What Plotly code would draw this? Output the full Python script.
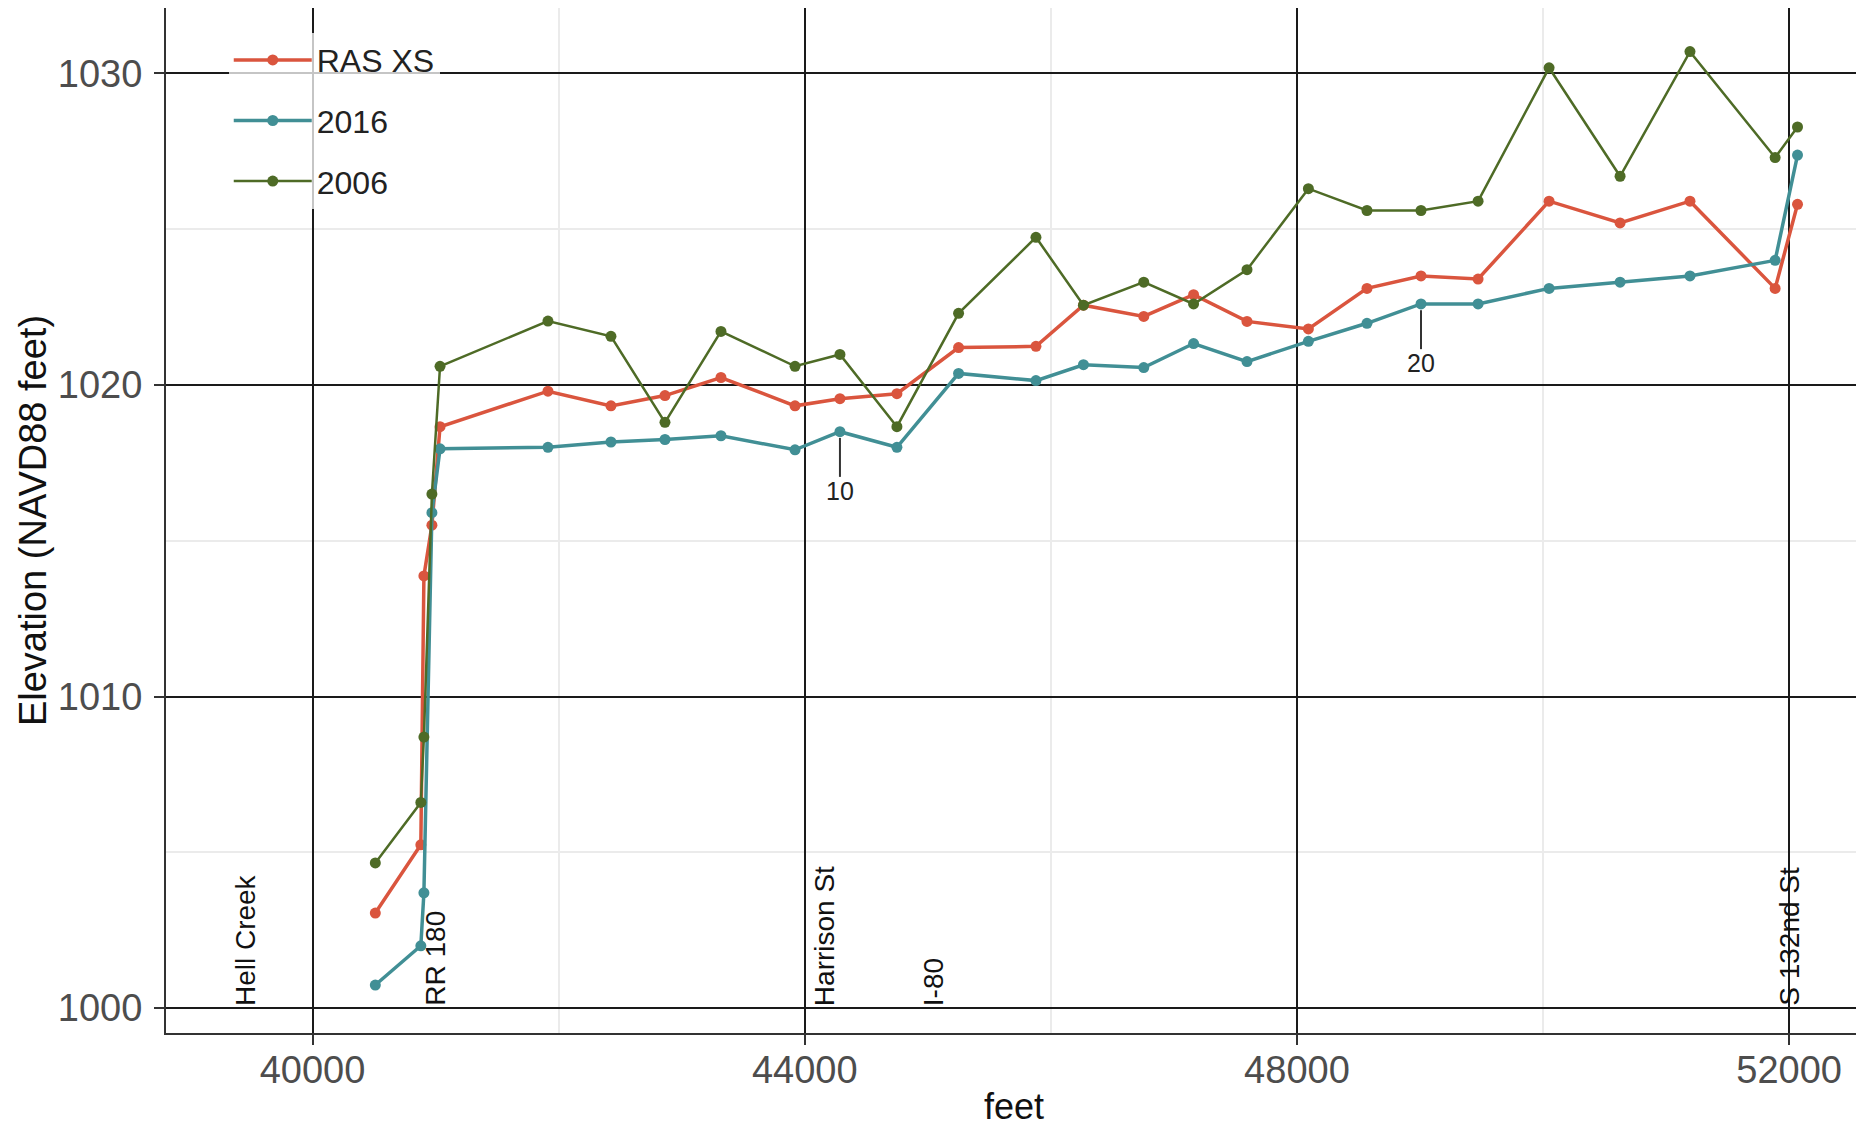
import plotly.graph_objects as go

# Station positions (feet) shared by all series
stations = [40510, 40880, 40905, 40970, 41036, 41913, 42425, 42864, 43319, 43921,
            44286, 44749, 45250, 45879, 46265, 46755, 47160, 47594, 48093, 48569,
            49008, 49472, 50049, 50626, 51194, 51886, 52068]

ras_xs = [1003.05, 1005.24, 1013.87, 1015.5, 1018.66, 1019.8, 1019.33, 1019.66, 1020.24, 1019.33,
          1019.56, 1019.72, 1021.2, 1021.24, 1022.56, 1022.2, 1022.9, 1022.04, 1021.8, 1023.1,
          1023.5, 1023.4, 1025.9, 1025.2, 1025.9, 1023.1, 1025.8]

y2016 = [1000.74, 1002.0, 1003.7, 1015.9, 1017.95, 1018.0, 1018.17, 1018.25, 1018.37, 1017.92,
         1018.5, 1018.0, 1020.37, 1020.14, 1020.65, 1020.56, 1021.33, 1020.75, 1021.4, 1021.98,
         1022.6, 1022.6, 1023.1, 1023.3, 1023.5, 1024.0, 1027.38]

y2006 = [1004.66, 1006.6, 1008.7, 1016.5, 1020.6, 1022.05, 1021.56, 1018.8, 1021.72, 1020.6,
         1020.98, 1018.66, 1022.3, 1024.74, 1022.56, 1023.3, 1022.6, 1023.7, 1026.3, 1025.6,
         1025.6, 1025.9, 1030.18, 1026.7, 1030.7, 1027.3, 1028.28]

# Landmark labels along the bottom
landmark_names = ["Hell Creek", "RR 180", "Harrison St", "I-80", "S 132nd St"]
landmark_x = [39451, 40996, 44157, 45043, 52000]

# Station index labels
station_labels = [10, 20]

x_ticks = [40000, 44000, 48000, 52000]
y_ticks = [1000, 1010, 1020, 1030]

RED = "#DA553E"
TEAL = "#418F95"
GREEN = "#4E6B26"

fig = go.Figure()
series = [("RAS XS", ras_xs, RED, 3.5), ("2016", y2016, TEAL, 3.5), ("2006", y2006, GREEN, 2.5)]
for name, ys, col, lw in series:
    fig.add_trace(go.Scatter(x=stations, y=ys, mode="lines+markers", name=name,
                             legendgroup=name,
                             line=dict(color=col, width=lw),
                             marker=dict(color=col, size=11)))

FONT = "Liberation Sans"
for name, xv in zip(landmark_names, landmark_x):
    fig.add_annotation(x=xv, y=1000, text=name, textangle=-90, showarrow=False,
                       xanchor="center", yanchor="bottom",
                       font=dict(family=FONT, size=28, color="#111111"))

for lab in station_labels:
    xs = stations[lab]
    yv = y2016[lab]
    fig.add_shape(type="line", x0=xs, x1=xs, y0=yv - 0.2, y1=yv - 1.45,
                  line=dict(color="#333333", width=2))
    fig.add_annotation(x=xs, y=yv - 1.9, text=str(lab), showarrow=False,
                       font=dict(family=FONT, size=25, color="#222222"))

axis_common = dict(showline=True, mirror=True, linecolor="#333333", linewidth=2,
                   ticks="outside", ticklen=10, tickwidth=2, tickcolor="#333333",
                   showgrid=True, gridcolor="#1a1a1a", gridwidth=2, zeroline=False,
                   automargin=False,
                   tickfont=dict(family=FONT, size=38, color="#4D4D4D"))

fig.update_xaxes(range=[38809, 52592], tickvals=x_ticks,
                 ticktext=[str(v) for v in x_ticks],
                 ticklabelstandoff=-8,
                 minor=dict(dtick=2000, tick0=40000, showgrid=True, gridcolor="#EBEBEB",
                            gridwidth=1.5, ticks=""),
                 title=dict(text="feet", font=dict(family=FONT, size=36, color="#111111"),
                            standoff=6),
                 **axis_common)
fig.update_yaxes(range=[999.2, 1032.1], tickvals=y_ticks,
                 ticktext=[str(v) for v in y_ticks],
                 ticklabelstandoff=4,
                 minor=dict(dtick=5, tick0=1000, showgrid=True, gridcolor="#EBEBEB",
                            gridwidth=1.5, ticks=""),
                 title=dict(text="Elevation (NAVD88 feet)",
                            font=dict(family=FONT, size=38, color="#111111"), standoff=0),
                 **axis_common)

fig.update_layout(width=1856, height=1119,
                  margin=dict(l=158, r=2, t=0, b=94),
                  paper_bgcolor="white", plot_bgcolor="white",
                  font=dict(family=FONT),
                  showlegend=True,
                  legend=dict(x=0.037, y=0.976, xanchor="left", yanchor="top",
                              bgcolor="rgba(255,255,255,0.75)",
                              font=dict(family=FONT, size=32, color="#222222"),
                              itemwidth=78, tracegroupgap=16,
                              traceorder="grouped"))

fig.write_html("out.html")
